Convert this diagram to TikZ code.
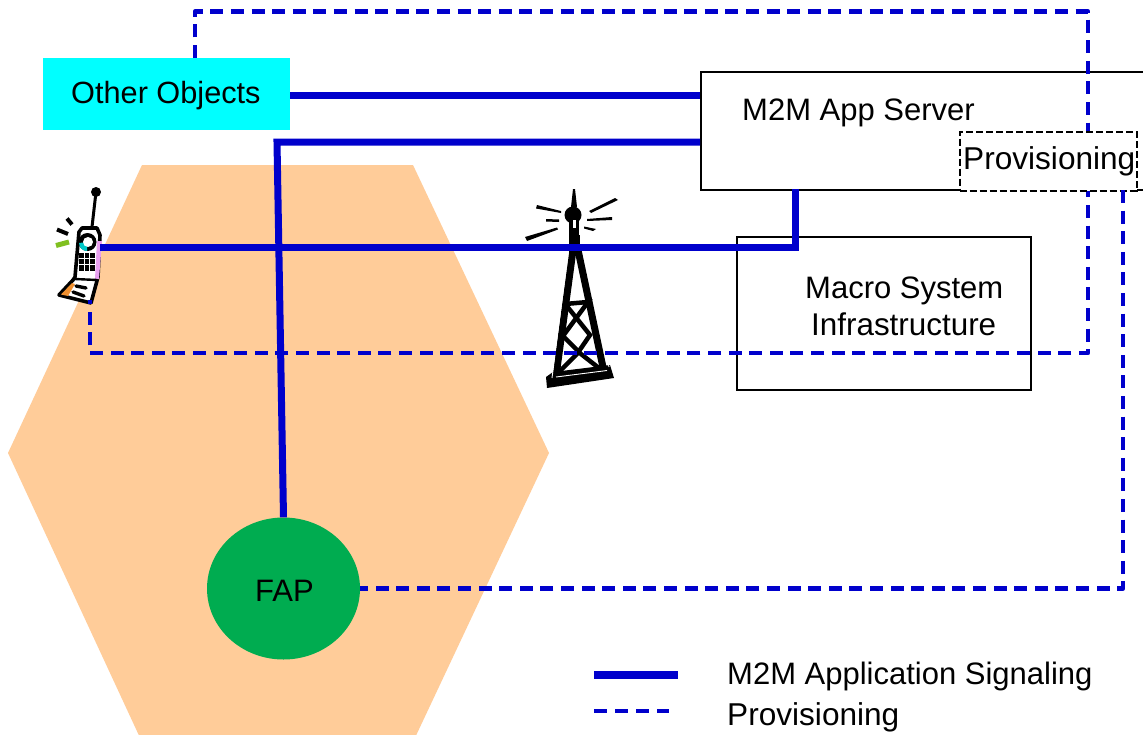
\documentclass[tikz,border=0pt]{standalone}
\usepackage{fontspec}
\usetikzlibrary{shapes.geometric}
\setmainfont{Liberation Sans}
\definecolor{sigblue}{HTML}{0000CC}
\definecolor{hexfill}{HTML}{FFCC99}
\definecolor{fapgreen}{HTML}{00AC50}
\definecolor{aqua}{HTML}{00FFFF}
\definecolor{phonecyan}{HTML}{00C8C8}
\definecolor{phonepink}{HTML}{E8A0F0}
\definecolor{phoneorange}{HTML}{F09030}
\definecolor{phonegreen}{HTML}{80C020}
\tikzset{
  sigline/.style={draw=sigblue,line width=7pt},
  provline/.style={draw=sigblue,line width=4.4pt,dash pattern=on 13pt off 7.6pt,line join=round},
  box/.style={draw=black,line width=2.4pt,fill=white,inner sep=0pt},
  lbl/.style={font=\fontsize{31}{36}\selectfont,text=black,inner sep=0pt,anchor=base west},
  lblwide/.style={lbl,font=\fontsize{31.6}{36}\selectfont},
  ink/.style={draw=black,line cap=round,line join=round},
}
\begin{document}
\begin{tikzpicture}[x=1pt,y=-1pt]
\clip (0,0) rectangle (1143,734);
\fill[white] (0,0) rectangle (1143,734);
% cell
\fill[hexfill] (142,165) -- (413,165) -- (549,453) -- (413,742) -- (142,742) -- (8,453) -- cycle;

% anchors for connectors
\coordinate (topstart) at (195,58);
\coordinate (c1) at (195,11.5);
\coordinate (c2) at (1088,11.5);
\coordinate (c3) at (1088,353);
\coordinate (c4) at (90,353);
\coordinate (phoneend) at (90,300);
\coordinate (phonesig) at (100,247);
\coordinate (c5) at (795,247);
\coordinate (c6) at (277,142);
\coordinate (c7) at (1123,588.5);

% phone
\begin{scope}
\draw[ink,line width=3.6pt,fill=white] (75,277) -- (79,232) -- (82,228) -- (97,228) -- (100,235) -- (98,277) -- (91,303) -- (59,295) -- (73,280) -- cycle;
\fill[phoneorange] (61,294.5) -- (72,283) -- (75,284) -- (68,296) -- cycle;
\fill[phonepink] (97,241) -- (102,241) -- (99,279) -- (95,279) -- cycle;
\draw[ink,line width=3pt] (92,227) -- (96,192);
\fill[black] (96,192) circle (5pt);
\draw[ink,line width=2.4pt] (75,279) -- (97,280);
\draw[ink,line width=3.4pt] (76,286) -- (86,288) (73,292) -- (84,296);
\fill[black] (87.5,242) circle (9pt);
\fill[phonecyan] (87.5,242) -- (79,243) arc[start angle=180,end angle=270,radius=8pt] -- cycle;
\fill[white] (88,242) circle (5pt);
\fill[black] (79,253) rectangle (95,270.5);
\foreach \i in {1,2}{\fill[white] (79+5.3*\i-0.4,253) rectangle ++(0.8,17.5);}
\foreach \j in {1,2}{\fill[white] (79,253+5.8*\j-0.4) rectangle (95,253+5.8*\j+0.4);}
\draw[black,line width=4pt] (57,229.5) -- (68,234) (67,218.5) -- (72,224.5);
\draw[phonegreen,line width=5pt] (56,245.5) -- (69,242);
\end{scope}

% tower
\begin{scope}
\fill[black] (546,377) -- (553,372) -- (610,365) -- (614,378) -- (547,388) -- cycle;
\fill[black] (573,189) -- (575,189) -- (577,207) -- (571,207) -- cycle;
\fill[black] (573,215) circle (8.5pt);
\fill[black] (569,218) rectangle (579,240);
\fill[white] (572.5,220) rectangle (575.5,228);
\fill[black] (569,235) rectangle (579.5,253);
\fill[black] (537,205) -- (561,211) -- (561,213) -- (536,208.5) -- cycle;
\fill[black] (546,219) -- (559,219.5) -- (559,222) -- (546,221.5) -- cycle;
\fill[black] (525,237) -- (557,227.5) -- (558,229.5) -- (527,241) -- cycle;
\fill[black] (589,211) -- (615,198) -- (618,200) -- (591,213) -- cycle;
\fill[black] (587,219) -- (612,217) -- (612,220) -- (587,221) -- cycle;
\fill[black] (584,226.5) -- (596,229) -- (593,231) -- (584,228.5) -- cycle;
\draw[draw=black,line width=7pt] (573,250) -- (556,376);
\draw[draw=black,line width=7pt] (578,250) -- (604,372);
\draw[draw=black,line width=4.5pt,line join=miter] (565,304) -- (588,302) -- (563,336) -- (581,354) -- (604,372);
\draw[draw=black,line width=4.5pt,line join=miter] (566,305) -- (590,335) -- (577,354) -- (554,377);
\draw[draw=white,line width=0.9pt] (556,377) -- (607,370.5);
\draw[draw=white,line width=0.9pt] (567.5,256) -- (552,378);
\draw[draw=white,line width=0.9pt] (584,256) -- (609,367);
\end{scope}

% boxes
\node[box,minimum width=460pt,minimum height=117.6pt,anchor=north west] (server) at (700,71) {};
\node[box,minimum width=293.5pt,minimum height=153pt,anchor=north west] (macro) at (736,236) {};
\node[fill=aqua,minimum width=247pt,minimum height=72pt,inner sep=0pt,anchor=north west] (other) at (43,58) {};
\node[fill=fapgreen,ellipse,minimum width=153pt,minimum height=142pt,inner sep=0pt] (fap) at (283.5,588.5) {};

% provisioning lines
\draw[provline] (topstart) -- (c1) -- (c2) -- (c3) -- (c4) -- (phoneend);

% signalling
\draw[sigline] (other.east |- 0,95) -- (server.west |- 0,95);
\draw[sigline] (server.west |- c6) -- (c6) -- (fap.north);
\draw[sigline] (795,189) -- (c5) -- (phonesig);

% provisioning box
\node[draw=black,line width=2.4pt,dash pattern=on 7pt off 3pt,fill=white,minimum width=177pt,minimum height=59pt,inner sep=0pt,anchor=north west] (prov) at (958.5,130.5) {};
\draw[provline] (1123,190) -- (c7) -- (fap.east);

% text
\node[lbl,font=\fontsize{30.7}{36}\selectfont] (tother) at (71,103) {Other Objects};
\node[lbl] (tserver) at (742,120) {M2M App Server};
\node[lblwide] (tprov) at (963,169) {Provisioning};
\node[lbl] (tmacro1) at (805,298) {Macro System};
\node[lbl,font=\fontsize{31.4}{36}\selectfont] (tmacro2) at (811,335) {Infrastructure};
\node[lbl] (tfap) at (255,601) {FAP};
\node[lbl] (tleg1) at (727,684) {M2M Application Signaling};
\node[lblwide] (tleg2) at (727,725) {Provisioning};

% legend
\coordinate (l1a) at (594,675); \coordinate (l1b) at (677.5,675);
\coordinate (l2a) at (594,711); \coordinate (l2b) at (669,711);
\draw[sigline,line width=8pt] (l1a) -- (l1b);
\draw[provline,dash pattern=on 13pt off 8pt] (l2a) -- (l2b);
\end{tikzpicture}
\end{document}
